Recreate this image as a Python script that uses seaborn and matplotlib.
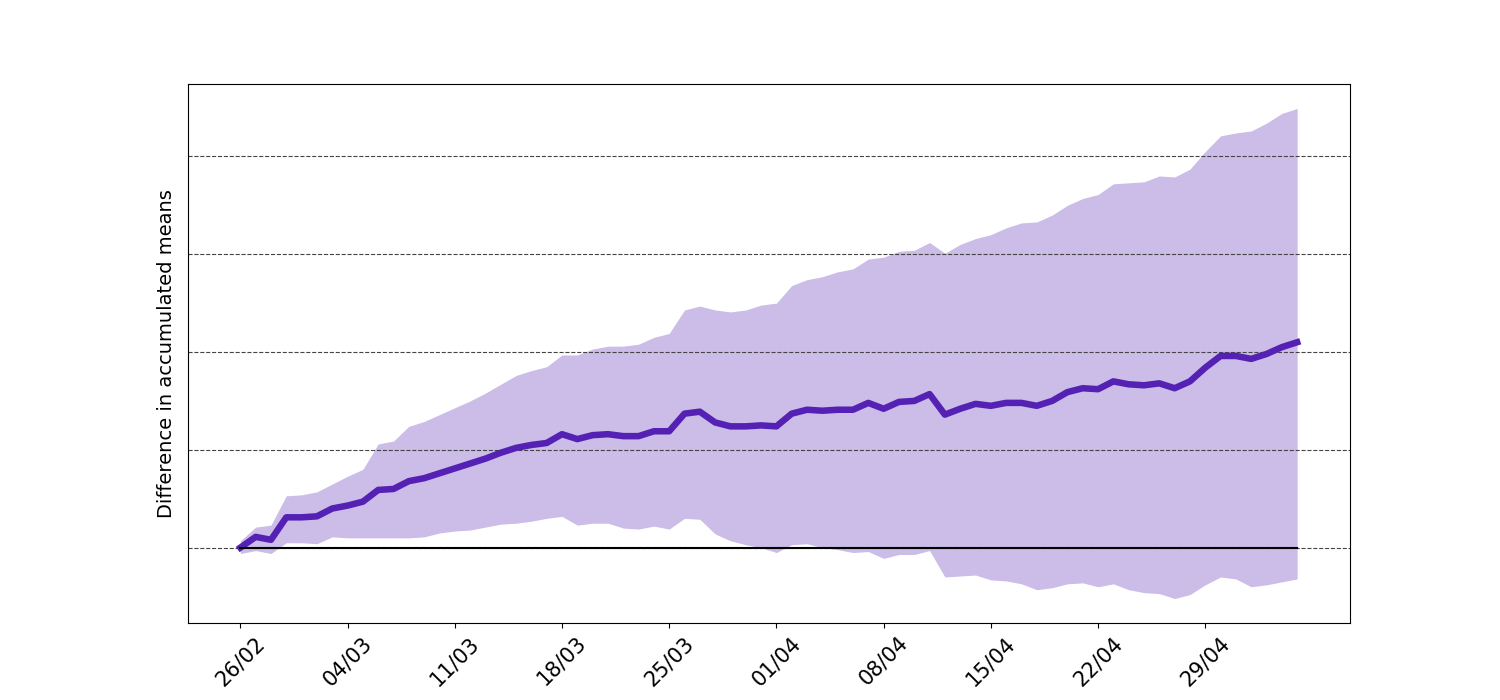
import matplotlib
matplotlib.use("Agg")
import matplotlib.pyplot as plt
import matplotlib.dates as mdates
import seaborn as sns
import pandas as pd
import numpy as np

start_date = "2020-02-26"
n_days = 70

mean_diff = [0.00, 0.11, 0.08, 0.31, 0.31, 0.32, 0.40, 0.43, 0.47, 0.59,
             0.60, 0.68, 0.71, 0.76, 0.81, 0.86, 0.91, 0.97, 1.02, 1.05,
             1.07, 1.16, 1.11, 1.15, 1.16, 1.14, 1.14, 1.19, 1.19, 1.37,
             1.39, 1.28, 1.24, 1.24, 1.25, 1.24, 1.37, 1.41, 1.40, 1.41,
             1.41, 1.48, 1.42, 1.49, 1.50, 1.57, 1.36, 1.42, 1.47, 1.45,
             1.48, 1.48, 1.45, 1.50, 1.59, 1.63, 1.62, 1.70, 1.67, 1.66,
             1.68, 1.63, 1.70, 1.84, 1.96, 1.96, 1.93, 1.98, 2.05, 2.10]

upper = [0.07, 0.21, 0.23, 0.53, 0.54, 0.57, 0.65, 0.73, 0.80, 1.06,
         1.09, 1.24, 1.29, 1.36, 1.43, 1.50, 1.58, 1.67, 1.76, 1.81,
         1.85, 1.97, 1.97, 2.03, 2.06, 2.06, 2.08, 2.15, 2.19, 2.43,
         2.47, 2.43, 2.41, 2.43, 2.48, 2.50, 2.68, 2.74, 2.77, 2.82,
         2.85, 2.95, 2.97, 3.03, 3.04, 3.12, 3.01, 3.10, 3.16, 3.20,
         3.27, 3.32, 3.33, 3.40, 3.50, 3.57, 3.61, 3.72, 3.73, 3.74,
         3.80, 3.79, 3.87, 4.05, 4.21, 4.24, 4.26, 4.34, 4.44, 4.49]

lower = [-0.06, -0.03, -0.06, 0.05, 0.05, 0.04, 0.11, 0.10, 0.10, 0.10,
         0.10, 0.10, 0.11, 0.15, 0.17, 0.18, 0.21, 0.24, 0.25, 0.27,
         0.30, 0.32, 0.23, 0.25, 0.25, 0.20, 0.19, 0.22, 0.19, 0.30,
         0.29, 0.14, 0.07, 0.03, 0.00, -0.05, 0.03, 0.04, 0.00, -0.02,
         -0.05, -0.04, -0.11, -0.07, -0.07, -0.03, -0.30, -0.29, -0.28, -0.33,
         -0.34, -0.37, -0.43, -0.41, -0.37, -0.36, -0.40, -0.37, -0.43, -0.46,
         -0.47, -0.52, -0.48, -0.38, -0.30, -0.32, -0.40, -0.38, -0.35, -0.32]

y_gridlines = [0, 1, 2, 3, 4]
ylabel = "Difference in accumulated means"

dates = pd.date_range(start_date, periods=n_days)
df = pd.DataFrame({"date": dates, "mean": mean_diff, "upper": upper, "lower": lower})

color = "#5521b5"

fig, ax = plt.subplots(figsize=(15, 7), dpi=100)
ax.fill_between(df["date"], df["lower"], df["upper"], color=color, alpha=0.3, linewidth=0)
sns.lineplot(data=df, x="date", y="mean", ax=ax, color=color, linewidth=4.7)
ax.plot([df["date"].iloc[0], df["date"].iloc[-1]], [0, 0], color="black", linewidth=1.5)

ax.set_yticks(y_gridlines)
ax.set_yticklabels([])
ax.tick_params(axis="y", length=0)
ax.yaxis.grid(True, linestyle="--", color="#444444", linewidth=0.8)

ax.set_xticks(dates[::7])
ax.xaxis.set_major_formatter(mdates.DateFormatter("%d/%m"))
plt.setp(ax.get_xticklabels(), rotation=45, fontsize=15)
ax.set_xlabel("")
ax.set_ylabel(ylabel, fontsize=14, labelpad=4.5)

fig.savefig("out.png", dpi=100)
